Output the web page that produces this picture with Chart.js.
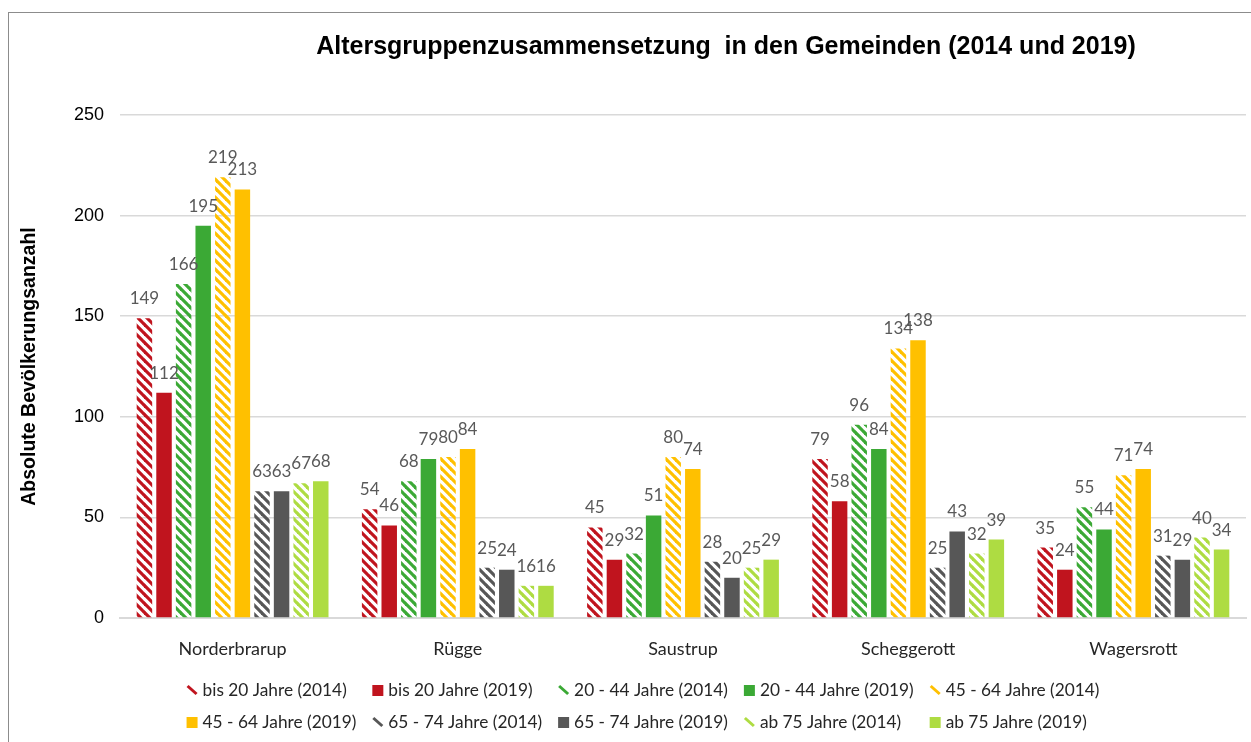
<!DOCTYPE html>
<html>
<head>
<meta charset="utf-8">
<script src="https://cdn.jsdelivr.net/npm/chart.js@4.4.1/dist/chart.umd.min.js"></script>
<style>
  html, body { margin: 0; padding: 0; background: #fff; }
  #wrap { width: 1251px; height: 742px; position: relative; }
</style>
</head>
<body>
<div id="wrap"><canvas id="chart"></canvas></div>
<script>
// ── Data ─────────────────────────────────────────────────
const gemeinden = ["Norderbrarup", "Rügge", "Saustrup", "Scheggerott", "Wagersrott"];
const gruppen = ["bis 20 Jahre", "20 - 44 Jahre", "45 - 64 Jahre", "65 - 74 Jahre", "ab 75 Jahre"];
const jahre = ["2014", "2019"];

const bis20_2014 = [149, 54, 45, 79, 35];
const bis20_2019 = [112, 46, 29, 58, 24];
const g20_44_2014 = [166, 68, 32, 96, 55];
const g20_44_2019 = [195, 79, 51, 84, 44];
const g45_64_2014 = [219, 80, 80, 134, 71];
const g45_64_2019 = [213, 84, 74, 138, 74];
const g65_74_2014 = [63, 25, 28, 25, 31];
const g65_74_2019 = [63, 24, 20, 43, 29];
const ab75_2014 = [67, 16, 25, 32, 40];
const ab75_2019 = [68, 16, 29, 39, 34];

const yTicks = [0, 50, 100, 150, 200, 250];

const seriesValues = [
  [bis20_2014, bis20_2019],
  [g20_44_2014, g20_44_2019],
  [g45_64_2014, g45_64_2019],
  [g65_74_2014, g65_74_2019],
  [ab75_2014, ab75_2019]
];
const groupColors = ["#C0141E", "#3BA935", "#FFC000", "#575757", "#AEDC42"];

// ── Hatch pattern (diagonal "\" stripes) ───────────────────
function makeHatch(color) {
  const s = 9;
  const c = document.createElement("canvas");
  c.width = s; c.height = s;
  const g = c.getContext("2d");
  g.strokeStyle = color;
  g.lineWidth = 3.2;
  for (let k = -1; k <= 1; k++) {
    g.beginPath();
    g.moveTo(k * s - 1, -1);
    g.lineTo(k * s + s + 1, s + 1);
    g.stroke();
  }
  return g.createPattern(c, "repeat");
}

const datasets = [];
gruppen.forEach((grp, gi) => {
  jahre.forEach((yr, yi) => {
    const hatched = yi === 0;
    datasets.push({
      label: `${grp} (${yr})`,
      data: seriesValues[gi][yi],
      backgroundColor: hatched ? makeHatch(groupColors[gi]) : groupColors[gi],
      baseColor: groupColors[gi],
      hatched,
      borderWidth: 0,
      categoryPercentage: 0.87,
      barPercentage: 0.79
    });
  });
});

const labelFont = "Lato, 'Liberation Sans', sans-serif";

/* ── Plugins: frame, title, value labels, legend ───────────*/
const framePlugin = {
  id: "frame",
  beforeDraw(chart) {
    const ctx = chart.ctx;
    ctx.save();
    ctx.fillStyle = "#fff";
    ctx.fillRect(0, 0, chart.width, chart.height);
    ctx.strokeStyle = "#8c8c8c";
    ctx.lineWidth = 1;
    ctx.strokeRect(8.5, 12.5, chart.width + 20, chart.height + 20);
    ctx.restore();
  },
  afterDraw(chart) {
    const ctx = chart.ctx;
    ctx.save();
    ctx.fillStyle = "#000";
    ctx.font = "bold 25px 'Liberation Sans', Arial, sans-serif";
    ctx.textAlign = "center";
    ctx.textBaseline = "middle";
    ctx.fillText("Altersgruppenzusammensetzung  in den Gemeinden (2014 und 2019)", 726, 47);
    ctx.restore();
  }
};

const valueLabels = {
  id: "valueLabels",
  afterDatasetsDraw(chart) {
    const ctx = chart.ctx;
    ctx.save();
    ctx.font = `17px ${labelFont}`;
    ctx.fillStyle = "#595959";
    ctx.textAlign = "center";
    ctx.textBaseline = "alphabetic";
    chart.data.datasets.forEach((ds, i) => {
      chart.getDatasetMeta(i).data.forEach((bar, j) => {
        ctx.fillText(String(ds.data[j]), bar.x, bar.y - 14);
      });
    });
    ctx.restore();
  }
};

const gridLegend = {
  id: "gridLegend",
  afterDraw(chart) {
    const ctx = chart.ctx;
    const cols = 5, rowY = [690, 722], iconW = 16, gap = 16;
    ctx.save();
    ctx.font = `17.3px ${labelFont}`;
    ctx.textBaseline = "middle";
    const ds = chart.data.datasets;
    const colW = [];
    for (let c = 0; c < cols; c++) {
      let w = 0;
      for (let r = 0; r < 2; r++) w = Math.max(w, ctx.measureText(ds[r * cols + c].label).width);
      colW.push(iconW + w + gap);
    }
    const total = colW.reduce((a, b) => a + b, 0) - gap;
    let x0 = 643 - total / 2;
    for (let c = 0; c < cols; c++) {
      for (let r = 0; r < 2; r++) {
        const d = ds[r * cols + c];
        const y = rowY[r];
        if (d.hatched) {
          ctx.strokeStyle = d.baseColor;
          ctx.lineWidth = 3;
          ctx.beginPath();
          ctx.moveTo(x0 + 1, y - 4);
          ctx.lineTo(x0 + 10, y + 4);
          ctx.stroke();
        } else {
          ctx.fillStyle = d.baseColor;
          ctx.fillRect(x0, y - 5, 11, 11);
        }
        ctx.fillStyle = "#262626";
        ctx.textAlign = "left";
        ctx.fillText(d.label, x0 + iconW, y);
      }
      x0 += colW[c];
    }
    ctx.restore();
  }
};

new Chart(document.getElementById("chart"), {
  type: "bar",
  data: { labels: gemeinden, datasets },
  plugins: [framePlugin, valueLabels, gridLegend],
  options: {
    responsive: true, maintainAspectRatio: false, animation: false,
    layout: { padding: { top: 115, left: 8, right: 5, bottom: 80 } },
    plugins: { legend: { display: false }, title: { display: false }, tooltip: { enabled: false } },
    scales: {
      x: {
        grid: { display: false },
        border: { color: "#d9d9d9", width: 2 },
        ticks: { color: "#262626", font: { size: 18, family: labelFont }, padding: 12 },
        afterFit(scale) { scale.height = 44; }
      },
      y: {
        min: 0, max: 250,
        afterBuildTicks(scale) { scale.ticks = yTicks.map(v => ({ value: v })); },
        grid: { color: "#d9d9d9", lineWidth: 1.5, drawTicks: false },
        border: { display: false },
        ticks: { color: "#000", font: { size: 18, family: "'Liberation Sans', Arial, sans-serif" }, padding: 16 },
        title: {
          display: true, text: "Absolute Bevölkerungsanzahl", color: "#000",
          font: { size: 19.5, weight: "bold", family: "'Liberation Sans', Arial, sans-serif" },
          padding: { top: 10, bottom: 0 }
        },
        afterFit(scale) { scale.width = 112; }
      }
    }
  }
});
</script>
</body>
</html>
